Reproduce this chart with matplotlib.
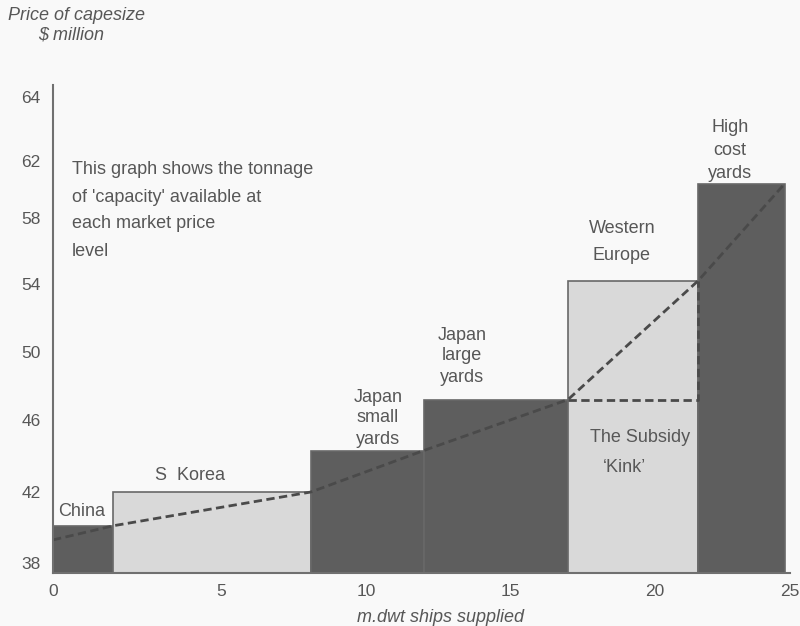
import numpy as np
import matplotlib
matplotlib.use("Agg")
import matplotlib.pyplot as plt

plt.rcParams['font.family'] = ['Liberation Sans', 'DejaVu Sans']

# ---- data ----
suppliers = ["China", "S Korea", "Japan small yards", "Japan large yards",
             "Western Europe", "High cost yards"]
capacity = [1.8, 6.3, 3.9, 5.0, 4.6, 3.2]          # m.dwt supplied by each group
price = [40.1, 42.0, 44.3, 47.2, 54.2, 60.4]        # $ million, price of capesize
curve_start_price = 39.3
light_shaded = [False, True, False, False, True, False]

x_ticks = [0, 5, 10, 15, 20, 25]
y_ticks = [38, 42, 46, 50, 54, 58, 62, 64]

# ---- the original's hand-drawn (non-uniform) axis spacing ----
W, H = 800, 626
x_tick_px = [53, 221, 366, 510, 655, 790]
y_tick_px = [H - p for p in [563, 492, 420, 352, 284, 218, 161, 97]]


def piecewise(vals, px):
    vals = np.asarray(vals, float)
    px = np.asarray(px, float)
    s0 = (px[1] - px[0]) / (vals[1] - vals[0])
    s1 = (px[-1] - px[-2]) / (vals[-1] - vals[-2])
    v = np.r_[vals[0] - 1000, vals, vals[-1] + 1000]
    p = np.r_[px[0] - 1000 * s0, px, px[-1] + 1000 * s1]
    return (lambda a: np.interp(a, v, p)), (lambda t: np.interp(t, p, v))


fx, ix = piecewise(x_ticks, x_tick_px)
fy, iy = piecewise(y_ticks, y_tick_px)

ax_left, ax_right, ax_top, ax_bottom = 53, 790, 85, 573

fig = plt.figure(figsize=(W / 100, H / 100), dpi=100)
fig.patch.set_facecolor('#f9f9f9')
ax = fig.add_axes([ax_left / W, (H - ax_bottom) / H,
                   (ax_right - ax_left) / W, (ax_bottom - ax_top) / H])
ax.set_facecolor('none')
ax.set_xscale('function', functions=(fx, ix))
ax.set_yscale('function', functions=(fy, iy))
ax.set_xlim(float(ix(ax_left)), float(ix(ax_right)))
ylo, yhi = float(iy(H - ax_bottom)), float(iy(H - ax_top))
ax.set_ylim(ylo, yhi)

dark, light, edge = '#5e5e5e', '#d9d9d9', '#686868'
lefts = np.concatenate([[0], np.cumsum(capacity)[:-1]])
colors = [light if s else dark for s in light_shaded]
ax.bar(lefts, np.array(price) - ylo, width=capacity, bottom=ylo, align='edge',
       color=colors, edgecolor=edge, linewidth=1.2, zorder=2)

# supply curve through the top-right corners
cx = np.concatenate([[0], np.cumsum(capacity)])
cy = np.concatenate([[curve_start_price], price])
dash = dict(color='#4a4a4a', lw=2.0, ls=(0, (3, 1.6)), zorder=3)
ax.plot(cx, cy, **dash)
# the subsidy kink
k_x0, k_x1 = cx[4], cx[5]
ax.plot([k_x0, k_x1, k_x1], [price[3], price[3], price[4]], **dash)

for s in ['top', 'right']:
    ax.spines[s].set_visible(False)
for s in ['left', 'bottom']:
    ax.spines[s].set_color('#707070')
    ax.spines[s].set_linewidth(1.5)
    ax.spines[s].set_zorder(4)

ax.set_xticks(x_ticks)
ax.set_xticklabels([str(t) for t in x_ticks])
ax.set_yticks(y_ticks)
ax.set_yticklabels([str(t) for t in y_ticks])
ax.xaxis.set_minor_locator(matplotlib.ticker.NullLocator())
ax.yaxis.set_minor_locator(matplotlib.ticker.NullLocator())
ax.tick_params(axis='both', length=0, labelsize=12.5, labelcolor='#575757')
ax.tick_params(axis='y', pad=9)
ax.tick_params(axis='x', pad=8)

tc = '#575757'


def ptext(x, y, s, **kw):
    kw.setdefault('color', tc)
    kw.setdefault('fontsize', 13)
    fig.text(x / W, 1 - y / H, s, **kw)


ptext(8, 15, 'Price of capesize', style='italic', ha='left', va='center')
ptext(71, 35, '$ million', style='italic', ha='center', va='center')
ptext(440, 617, 'm.dwt ships supplied', style='italic', ha='center', va='center')

ptext(72, 170, "This graph shows the tonnage", ha='left', va='center')
ptext(72, 197, "of 'capacity' available at", ha='left', va='center')
ptext(72, 224, "each market price", ha='left', va='center')
ptext(72, 252, "level", ha='left', va='center')

ptext(82, 512, 'China', ha='center', va='center')
ptext(190, 476, 'S  Korea', ha='center', va='center')
for i, w in enumerate(['Japan', 'small', 'yards']):
    ptext(378, 397 + 21 * i, w, ha='center', va='center')
for i, w in enumerate(['Japan', 'large', 'yards']):
    ptext(462, 335 + 21 * i, w, ha='center', va='center')
ptext(622, 228, 'Western', ha='center', va='center')
ptext(622, 256, 'Europe', ha='center', va='center')
for i, w in enumerate(['High', 'cost', 'yards']):
    ptext(730, 128 + 22.5 * i, w, ha='center', va='center')
ptext(590, 438, 'The Subsidy', ha='left', va='center')
ptext(603, 467, '\u2018Kink\u2019', ha='left', va='center')

fig.savefig('out.png', dpi=100, facecolor=fig.get_facecolor())
